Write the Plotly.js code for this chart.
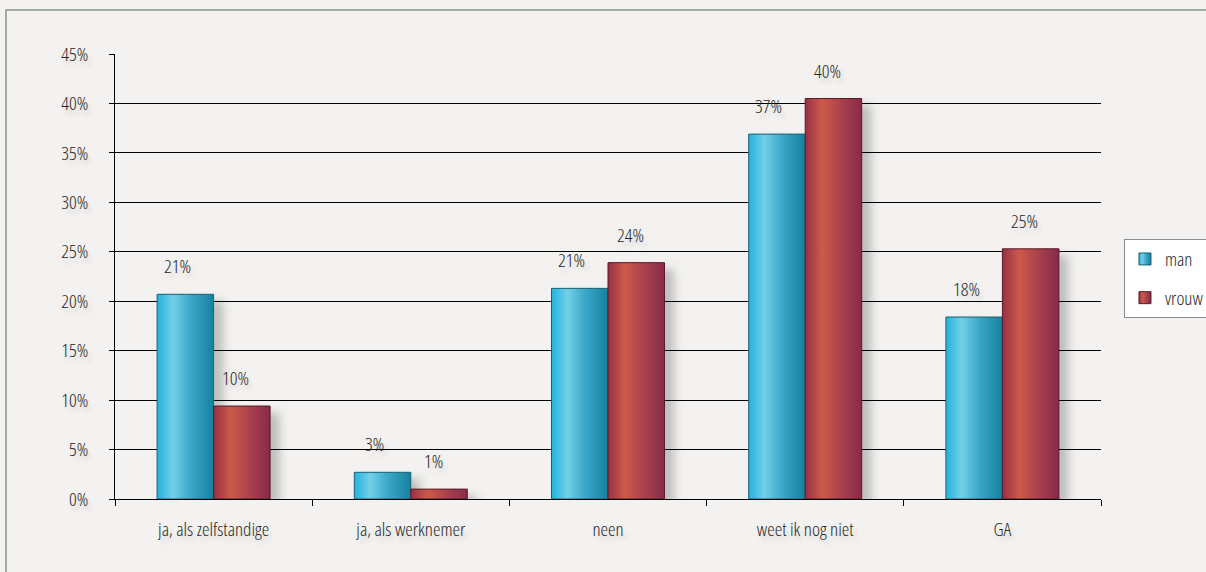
<!DOCTYPE html>
<html>
<head>
<meta charset="utf-8">
<script src="https://cdn.plot.ly/plotly-3.0.1.min.js"></script>
<style>
html,body{margin:0;padding:0;background:#f3f2f0;}
svg text{font-stretch:75% !important;}
#wrap{position:relative;width:1206px;height:572px;overflow:hidden;}
#chart{width:1206px;height:572px;}
#frame{position:absolute;left:5px;top:9px;width:1300px;height:700px;border-left:2px solid #a3aca3;border-top:2px solid #a3aca3;pointer-events:none;}
</style>
</head>
<body>
<div id="wrap"><div id="chart"></div><div id="frame"></div></div>
<script>
const categories = ['ja, als zelfstandige', 'ja, als werknemer', 'neen', 'weet ik nog niet', 'GA'];
const manValues = [0.207, 0.027, 0.213, 0.369, 0.184];
const vrouwValues = [0.094, 0.010, 0.239, 0.405, 0.253];
const manLabels = ['21%', '3%', '21%', '37%', '18%'];
const vrouwLabels = ['10%', '1%', '24%', '40%', '25%'];
const seriesNames = ['man', 'vrouw'];

const FONT = '"Open Sans", sans-serif';
const FS = 19;
const FW = 300;
const TXT = '#262626';
const SHADOW = '3px 5px 5px rgba(0,0,0,0.14)';
const BARGAP = 0.427;
const halfOff = (1 - BARGAP) / 4;

const traces = [
  {type:'bar', name:seriesNames[0], x:categories, y:manValues, legendgroup:'a',
   marker:{color:'#3aaccc', line:{color:'#1b5f73', width:1}}, hoverinfo:'skip'},
  {type:'bar', name:seriesNames[1], x:categories, y:vrouwValues, legendgroup:'b',
   marker:{color:'#b04a52', line:{color:'#5a1a2a', width:1}}, hoverinfo:'skip'}
];

const annotations = [];
categories.forEach((c, i) => {
  annotations.push({x:i - halfOff, y:manValues[i], xref:'x', yref:'y', text:manLabels[i],
    showarrow:false, yanchor:'bottom', xanchor:'center', xshift:-8, yshift:13,
    font:{family:FONT, size:FS, weight:FW, color:TXT, shadow:SHADOW}});
  annotations.push({x:i + halfOff, y:vrouwValues[i], xref:'x', yref:'y', text:vrouwLabels[i],
    showarrow:false, yanchor:'bottom', xanchor:'center', xshift:-6, yshift:13,
    font:{family:FONT, size:FS, weight:FW, color:TXT, shadow:SHADOW}});
});

const layout = {
  width:1206, height:572,
  paper_bgcolor:'#f3f2f0', plot_bgcolor:'rgba(0,0,0,0)',
  margin:{l:115, r:105, t:54, b:73, autoexpand:false},
  barmode:'group', bargap:BARGAP, bargroupgap:0,
  font:{family:FONT, size:FS, weight:FW, color:TXT},
  showlegend:true,
  legend:{x:1.0233, xanchor:'left', y:0.584, yanchor:'top',
    bgcolor:'#ffffff', bordercolor:'#8a8a8a', borderwidth:1,
    font:{family:FONT, size:FS, weight:FW, color:TXT}, tracegroupgap:11, itemwidth:30},
  xaxis:{type:'category', showline:true, linecolor:'#000', linewidth:1,
    ticks:'outside', tickson:'boundaries', ticklen:6, tickcolor:'#000',
    ticklabelstandoff:13, showgrid:false, zeroline:false,
    tickfont:{family:FONT, size:FS, weight:FW, color:TXT, shadow:SHADOW}},
  yaxis:{range:[0, 0.45], dtick:0.05, tick0:0, tickformat:'.0%',
    showline:true, linecolor:'#000', linewidth:1,
    ticks:'outside', ticklen:5, tickcolor:'#000', ticklabelstandoff:17,
    showgrid:true, gridcolor:'#000', gridwidth:1, zeroline:false,
    tickfont:{family:FONT, size:FS, weight:FW, color:TXT, shadow:SHADOW}},
  annotations:annotations
};

Plotly.newPlot('chart', traces, layout, {displayModeBar:false, staticPlot:true}).then(gd => {
  const svg = gd.querySelector('svg.main-svg');
  const ns = 'http://www.w3.org/2000/svg';
  let defs = svg.querySelector('defs');
  if (!defs) { defs = document.createElementNS(ns, 'defs'); svg.insertBefore(defs, svg.firstChild); }
  defs.insertAdjacentHTML('beforeend',
    '<linearGradient id="gMan" x1="0" y1="0" x2="1" y2="0">' +
      '<stop offset="0" stop-color="#22b2de"/><stop offset="0.28" stop-color="#72d0e7"/>' +
      '<stop offset="0.6" stop-color="#3aa6c8"/><stop offset="1" stop-color="#16819f"/></linearGradient>' +
    '<linearGradient id="gVrouw" x1="0" y1="0" x2="1" y2="0">' +
      '<stop offset="0" stop-color="#973045"/><stop offset="0.3" stop-color="#cc5a4a"/>' +
      '<stop offset="0.65" stop-color="#a8404c"/><stop offset="1" stop-color="#882a4a"/></linearGradient>' +
    '<filter id="shd" x="-30%" y="-10%" width="180%" height="130%">' +
      '<feDropShadow dx="9" dy="7" stdDeviation="5" flood-color="#000" flood-opacity="0.22"/></filter>');
  const grads = ['url(#gMan)', 'url(#gVrouw)'];
  gd.querySelectorAll('.barlayer .trace.bars').forEach((g, ti) => {
    g.querySelectorAll('.point path').forEach(p => {
      p.style.fill = grads[ti];
      p.setAttribute('filter', 'url(#shd)');
    });
  });
  gd.querySelectorAll('svg.main-svg').forEach(s => s.querySelectorAll('.legend .traces').forEach((t, ti) => {
    t.querySelectorAll('.legendpoints path').forEach(p => { p.style.fill = grads[ti]; });
  }));
});
</script>
</body>
</html>
